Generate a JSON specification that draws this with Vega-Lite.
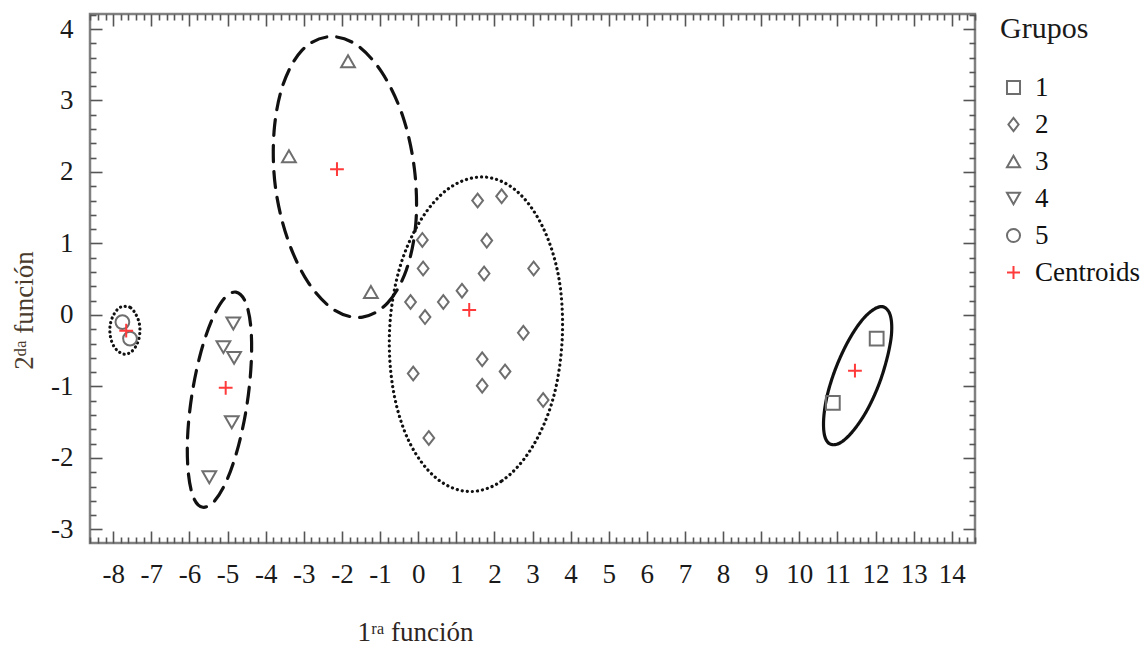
{
  "$schema": "https://vega.github.io/schema/vega-lite/v6.json",
  "width": 885,
  "height": 529,
  "autosize": {"type": "none"},
  "padding": {"left": 90, "top": 14, "right": 171, "bottom": 105},
  "background": "white",
  "config": {
    "view": {"stroke": "#808080", "strokeWidth": 2.5},
    "font": "Liberation Serif",
    "legend": {
      "orient": "none",
      "legendX": 910,
      "legendY": 0,
      "titleFont": "Liberation Serif",
      "titleFontSize": 30,
      "titleFontWeight": "normal",
      "titleColor": "#1a1a1a",
      "titlePadding": 30,
      "labelFont": "Liberation Serif",
      "labelFontSize": 27,
      "labelColor": "#111",
      "labelOffset": 8,
      "symbolSize": 170,
      "symbolStrokeWidth": 2,
      "rowPadding": 9
    }
  },
  "datasets": {
    "puntos": [
      {"x": 10.88, "y": -1.23, "grupo": "1"},
      {"x": 12.03, "y": -0.33, "grupo": "1"},
      {"x": 1.56, "y": 1.60, "grupo": "2"},
      {"x": 2.19, "y": 1.66, "grupo": "2"},
      {"x": 0.11, "y": 1.05, "grupo": "2"},
      {"x": 1.80, "y": 1.04, "grupo": "2"},
      {"x": 0.13, "y": 0.65, "grupo": "2"},
      {"x": 1.73, "y": 0.58, "grupo": "2"},
      {"x": 3.03, "y": 0.65, "grupo": "2"},
      {"x": 1.15, "y": 0.34, "grupo": "2"},
      {"x": -0.20, "y": 0.18, "grupo": "2"},
      {"x": 0.66, "y": 0.18, "grupo": "2"},
      {"x": 0.18, "y": -0.03, "grupo": "2"},
      {"x": 2.76, "y": -0.25, "grupo": "2"},
      {"x": 1.68, "y": -0.62, "grupo": "2"},
      {"x": 2.28, "y": -0.79, "grupo": "2"},
      {"x": -0.13, "y": -0.82, "grupo": "2"},
      {"x": 1.68, "y": -0.99, "grupo": "2"},
      {"x": 3.28, "y": -1.19, "grupo": "2"},
      {"x": 0.28, "y": -1.72, "grupo": "2"},
      {"x": -1.84, "y": 3.55, "grupo": "3"},
      {"x": -3.39, "y": 2.22, "grupo": "3"},
      {"x": -1.24, "y": 0.32, "grupo": "3"},
      {"x": -4.85, "y": -0.12, "grupo": "4"},
      {"x": -5.11, "y": -0.45, "grupo": "4"},
      {"x": -4.83, "y": -0.60, "grupo": "4"},
      {"x": -4.89, "y": -1.50, "grupo": "4"},
      {"x": -5.48, "y": -2.27, "grupo": "4"},
      {"x": -7.76, "y": -0.10, "grupo": "5"},
      {"x": -7.56, "y": -0.33, "grupo": "5"},
      {"x": 11.46, "y": -0.78, "grupo": "Centroids"},
      {"x": 1.34, "y": 0.07, "grupo": "Centroids"},
      {"x": -2.13, "y": 2.04, "grupo": "Centroids"},
      {"x": -5.05, "y": -1.02, "grupo": "Centroids"},
      {"x": -7.66, "y": -0.22, "grupo": "Centroids"}
    ],
    "elipses": [
      {"elipse": "3", "orden": 0, "x": -1.46, "y": -0.03},
      {"elipse": "3", "orden": 1, "x": -0.80, "y": 0.17},
      {"elipse": "3", "orden": 2, "x": -0.31, "y": 0.63},
      {"elipse": "3", "orden": 3, "x": -0.06, "y": 1.29},
      {"elipse": "3", "orden": 4, "x": -0.10, "y": 2.05},
      {"elipse": "3", "orden": 5, "x": -0.41, "y": 2.79},
      {"elipse": "3", "orden": 6, "x": -0.96, "y": 3.40},
      {"elipse": "3", "orden": 7, "x": -1.65, "y": 3.79},
      {"elipse": "3", "orden": 8, "x": -2.38, "y": 3.89},
      {"elipse": "3", "orden": 9, "x": -3.05, "y": 3.70},
      {"elipse": "3", "orden": 10, "x": -3.54, "y": 3.23},
      {"elipse": "3", "orden": 11, "x": -3.78, "y": 2.57},
      {"elipse": "3", "orden": 12, "x": -3.75, "y": 1.81},
      {"elipse": "3", "orden": 13, "x": -3.43, "y": 1.07},
      {"elipse": "3", "orden": 14, "x": -2.89, "y": 0.46},
      {"elipse": "3", "orden": 15, "x": -2.20, "y": 0.07},
      {"elipse": "2", "orden": 0, "x": 1.32, "y": -2.47},
      {"elipse": "2", "orden": 1, "x": 2.20, "y": -2.32},
      {"elipse": "2", "orden": 2, "x": 2.98, "y": -1.86},
      {"elipse": "2", "orden": 3, "x": 3.54, "y": -1.17},
      {"elipse": "2", "orden": 4, "x": 3.78, "y": -0.33},
      {"elipse": "2", "orden": 5, "x": 3.69, "y": 0.52},
      {"elipse": "2", "orden": 6, "x": 3.26, "y": 1.24},
      {"elipse": "2", "orden": 7, "x": 2.57, "y": 1.74},
      {"elipse": "2", "orden": 8, "x": 1.72, "y": 1.93},
      {"elipse": "2", "orden": 9, "x": 0.83, "y": 1.78},
      {"elipse": "2", "orden": 10, "x": 0.06, "y": 1.32},
      {"elipse": "2", "orden": 11, "x": -0.50, "y": 0.63},
      {"elipse": "2", "orden": 12, "x": -0.75, "y": -0.21},
      {"elipse": "2", "orden": 13, "x": -0.65, "y": -1.06},
      {"elipse": "2", "orden": 14, "x": -0.23, "y": -1.78},
      {"elipse": "2", "orden": 15, "x": 0.47, "y": -2.28},
      {"elipse": "4", "orden": 0, "x": -5.65, "y": -2.69},
      {"elipse": "4", "orden": 1, "x": -5.34, "y": -2.60},
      {"elipse": "4", "orden": 2, "x": -5.01, "y": -2.30},
      {"elipse": "4", "orden": 3, "x": -4.71, "y": -1.82},
      {"elipse": "4", "orden": 4, "x": -4.49, "y": -1.25},
      {"elipse": "4", "orden": 5, "x": -4.38, "y": -0.67},
      {"elipse": "4", "orden": 6, "x": -4.39, "y": -0.17},
      {"elipse": "4", "orden": 7, "x": -4.53, "y": 0.18},
      {"elipse": "4", "orden": 8, "x": -4.78, "y": 0.32},
      {"elipse": "4", "orden": 9, "x": -5.09, "y": 0.23},
      {"elipse": "4", "orden": 10, "x": -5.42, "y": -0.08},
      {"elipse": "4", "orden": 11, "x": -5.72, "y": -0.56},
      {"elipse": "4", "orden": 12, "x": -5.94, "y": -1.13},
      {"elipse": "4", "orden": 13, "x": -6.05, "y": -1.71},
      {"elipse": "4", "orden": 14, "x": -6.03, "y": -2.21},
      {"elipse": "4", "orden": 15, "x": -5.89, "y": -2.56},
      {"elipse": "5", "orden": 0, "x": -7.69, "y": 0.12},
      {"elipse": "5", "orden": 1, "x": -7.54, "y": 0.10},
      {"elipse": "5", "orden": 2, "x": -7.42, "y": 0.02},
      {"elipse": "5", "orden": 3, "x": -7.33, "y": -0.09},
      {"elipse": "5", "orden": 4, "x": -7.30, "y": -0.21},
      {"elipse": "5", "orden": 5, "x": -7.33, "y": -0.34},
      {"elipse": "5", "orden": 6, "x": -7.42, "y": -0.45},
      {"elipse": "5", "orden": 7, "x": -7.54, "y": -0.52},
      {"elipse": "5", "orden": 8, "x": -7.69, "y": -0.55},
      {"elipse": "5", "orden": 9, "x": -7.84, "y": -0.52},
      {"elipse": "5", "orden": 10, "x": -7.97, "y": -0.45},
      {"elipse": "5", "orden": 11, "x": -8.06, "y": -0.34},
      {"elipse": "5", "orden": 12, "x": -8.09, "y": -0.21},
      {"elipse": "5", "orden": 13, "x": -8.06, "y": -0.09},
      {"elipse": "5", "orden": 14, "x": -7.97, "y": 0.02},
      {"elipse": "5", "orden": 15, "x": -7.84, "y": 0.10},
      {"elipse": "1", "orden": 0, "x": 10.83, "y": -1.81},
      {"elipse": "1", "orden": 1, "x": 11.10, "y": -1.78},
      {"elipse": "1", "orden": 2, "x": 11.43, "y": -1.61},
      {"elipse": "1", "orden": 3, "x": 11.78, "y": -1.33},
      {"elipse": "1", "orden": 4, "x": 12.09, "y": -0.97},
      {"elipse": "1", "orden": 5, "x": 12.31, "y": -0.59},
      {"elipse": "1", "orden": 6, "x": 12.42, "y": -0.26},
      {"elipse": "1", "orden": 7, "x": 12.39, "y": -0.01},
      {"elipse": "1", "orden": 8, "x": 12.22, "y": 0.11},
      {"elipse": "1", "orden": 9, "x": 11.96, "y": 0.08},
      {"elipse": "1", "orden": 10, "x": 11.62, "y": -0.09},
      {"elipse": "1", "orden": 11, "x": 11.27, "y": -0.38},
      {"elipse": "1", "orden": 12, "x": 10.96, "y": -0.74},
      {"elipse": "1", "orden": 13, "x": 10.74, "y": -1.11},
      {"elipse": "1", "orden": 14, "x": 10.64, "y": -1.45},
      {"elipse": "1", "orden": 15, "x": 10.67, "y": -1.70}
    ]
  },
  "layer": [
    {
      "data": {"name": "elipses"},
      "mark": {"type": "line", "interpolate": "cardinal-closed", "stroke": "#111", "strokeWidth": 3.2, "strokeCap": "round"},
      "encoding": {
        "x": {
          "field": "x", "type": "quantitative",
          "scale": {"domain": [-8.61, 14.61], "nice": false, "zero": false},
          "axis": {
            "orient": "top", "labels": false, "domain": false, "grid": false, "title": null,
            "tickCount": 116,
            "tickSize": {"condition": {"test": "abs(datum.value - round(datum.value)) < 0.01", "value": -12}, "value": -6},
            "tickColor": "#555", "tickWidth": 1.6
          }
        },
        "y": {
          "field": "y", "type": "quantitative",
          "scale": {"domain": [-3.19, 4.21], "nice": false, "zero": false},
          "axis": {
            "orient": "right", "labels": false, "domain": false, "grid": false, "title": null,
            "tickCount": 37,
            "tickSize": {"condition": {"test": "abs(datum.value - round(datum.value)) < 0.01", "value": -12}, "value": -6},
            "tickColor": "#555", "tickWidth": 1.6
          }
        },
        "strokeDash": {
          "field": "elipse", "type": "nominal",
          "scale": {"domain": ["1", "2", "3", "4", "5"], "range": [[1, 0], [0.1, 5], [16, 10], [16, 10], [0.1, 4.6]]},
          "legend": null
        },
        "order": {"field": "orden", "type": "quantitative"}
      }
    },
    {
      "data": {"name": "puntos"},
      "mark": {"type": "point", "filled": false, "strokeWidth": 2, "size": 190, "opacity": 1},
      "encoding": {
        "x": {
          "field": "x", "type": "quantitative",
          "scale": {"domain": [-8.61, 14.61], "nice": false, "zero": false},
          "axis": {
            "orient": "bottom", "domain": false, "grid": false,
            "title": "1ʳᵃ función", "titleX": 325, "titleY": 89, "titleBaseline": "middle",
            "titleFont": "Liberation Serif", "titleFontSize": 27, "titleFontWeight": "normal", "titleColor": "#2e261f",
            "tickCount": 116,
            "tickSize": {"condition": {"test": "abs(datum.value - round(datum.value)) < 0.01", "value": -12}, "value": -6},
            "tickColor": "#555", "tickWidth": 1.6,
            "labelExpr": "abs(datum.value - round(datum.value)) < 0.01 ? '' + round(datum.value) : ''",
            "labelFont": "Liberation Serif", "labelFontSize": 27, "labelColor": "#1a1a1a",
            "labelPadding": 30, "labelOverlap": false, "labelFlush": false
          }
        },
        "y": {
          "field": "y", "type": "quantitative",
          "scale": {"domain": [-3.19, 4.21], "nice": false, "zero": false},
          "axis": {
            "orient": "left", "domain": false, "grid": false,
            "title": "2ᵈᵃ función", "titleX": -66, "titleY": 296, "titleBaseline": "middle", "titleAlign": "center",
            "titleFont": "Liberation Serif", "titleFontSize": 27, "titleFontWeight": "normal", "titleColor": "#4a3b2c",
            "tickCount": 37,
            "tickSize": {"condition": {"test": "abs(datum.value - round(datum.value)) < 0.01", "value": -12}, "value": -6},
            "tickColor": "#555", "tickWidth": 1.6,
            "labelExpr": "abs(datum.value - round(datum.value)) < 0.01 ? '' + round(datum.value) : ''",
            "labelFont": "Liberation Serif", "labelFontSize": 27, "labelColor": "#1a1a1a",
            "labelPadding": 29, "labelOverlap": false, "labelFlush": false
          }
        },
        "color": {
          "field": "grupo", "type": "nominal", "title": "Grupos",
          "scale": {"domain": ["1", "2", "3", "4", "5", "Centroids"], "range": ["#6e6e6e", "#6e6e6e", "#6e6e6e", "#6e6e6e", "#6e6e6e", "#ff3a3a"]}
        },
        "shape": {
          "field": "grupo", "type": "nominal", "title": "Grupos",
          "scale": {"domain": ["1", "2", "3", "4", "5", "Centroids"], "range": ["square", "M0,-1L0.78,0L0,1L-0.78,0Z", "triangle-up", "triangle-down", "circle", "M-1,0L1,0M0,-1L0,1"]}
        }
      }
    }
  ],
  "resolve": {"axis": {"x": "independent", "y": "independent"}}
}
